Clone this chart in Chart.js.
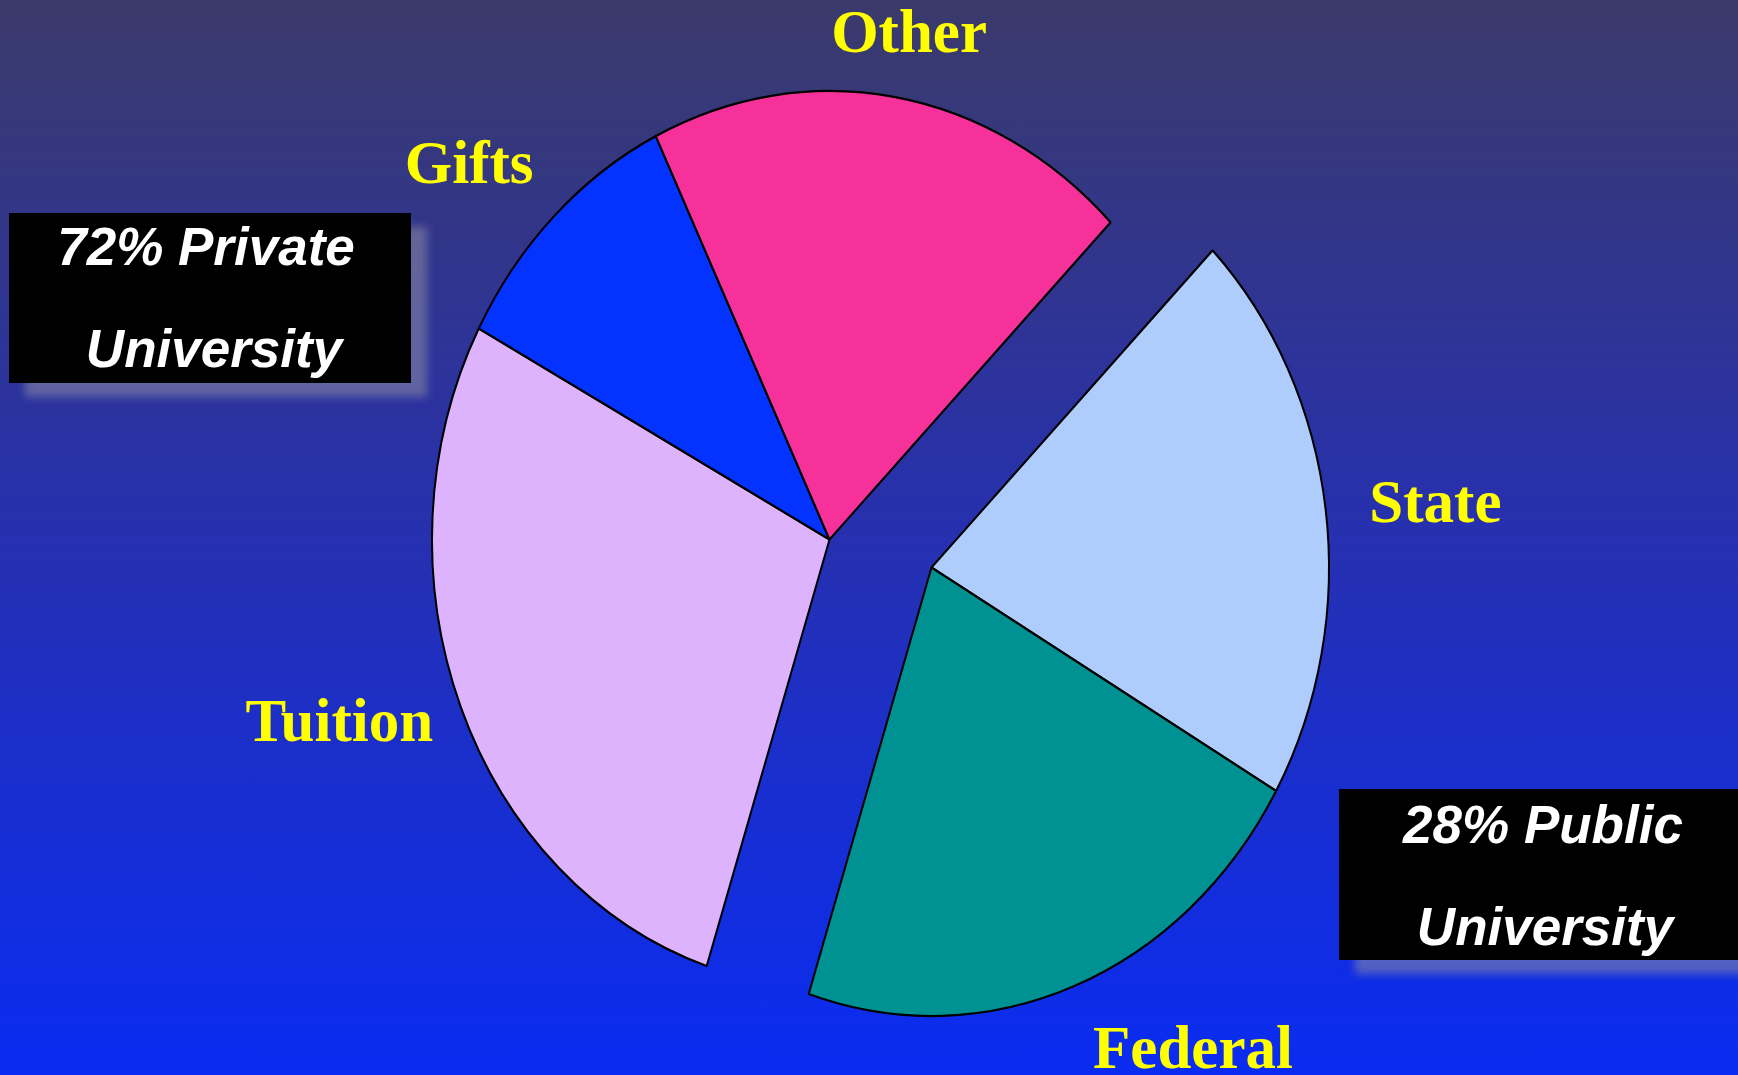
<!DOCTYPE html>
<html>
<head>
<meta charset="utf-8">
<script src="https://cdn.jsdelivr.net/npm/chart.js@4"></script>
<style>
  html, body { margin: 0; padding: 0; }
  body {
    width: 1738px; height: 1075px; overflow: hidden;
    background: linear-gradient(to bottom, #3b3a6b 0%, #2630b0 50%, #0a2cf2 100%);
  }
  canvas { display: block; }
</style>
</head>
<body>
<canvas id="chart" width="1738" height="1075"></canvas>
<script>
// slices, clockwise from the upper right
const labels = ["State", "Federal", "Tuition", "Gifts", "Other"];
const shares = [20.8, 21.7, 27.8, 10.0, 19.7];
const groups = ["Public", "Public", "Private", "Private", "Private"];
const colors = ["#afcdfc", "#009292", "#dcb3fc", "#0433ff", "#f6319a"];

const boxTexts = {
  Private: ["72% Private", "University"],
  Public: ["28% Public", "University"]
};

// --- look & layout (not data) ---
const yStretch = 448.5 / 397.5;          // pie is drawn as a tall ellipse
const groupShift = { Private: { x: -51, y: -14 }, Public: { x: 51, y: 14 } };
// label placement relative to each slice: [angle nudge (deg), radius factor]
const labelPlace = [[1, 1.276], [-10.5, 1.257], [3.8, 1.298], [-3.3, 1.235], [0.5, 1.148]];
const boxes = {
  Private: { x: 9, y: 213, w: 402, h: 170, cx: [206, 214], base: [265, 367] },
  Public: { x: 1339, y: 789, w: 402, h: 171, cx: [1543, 1545], base: [843, 945] }
};

const ellipsePlugin = {
  id: "ellipse",
  beforeDatasetDraw(chart, args) {
    const { ctx } = chart;
    args.meta.data.forEach((arc, i) => {
      const s = groupShift[groups[i]];
      ctx.save();
      ctx.translate(arc.x + s.x, arc.y + s.y);
      ctx.scale(1, yStretch);
      ctx.translate(-arc.x, -arc.y);
      arc.draw(ctx, chart.chartArea);
      ctx.restore();
    });
    return false;
  },
  afterDraw(chart) {
    const { ctx } = chart;
    const meta = chart.getDatasetMeta(0);

    // slice names
    ctx.save();
    ctx.fillStyle = "#ffff00";
    ctx.font = "bold 61px 'Liberation Serif', 'Times New Roman', serif";
    ctx.textAlign = "center";
    ctx.textBaseline = "middle";
    meta.data.forEach((arc, i) => {
      const s = groupShift[groups[i]];
      const [nudge, f] = labelPlace[i];
      const a = (arc.startAngle + arc.endAngle) / 2 + nudge * Math.PI / 180;
      const r = arc.outerRadius * f;
      const x = arc.x + s.x + Math.cos(a) * r;
      const y = arc.y + s.y + Math.sin(a) * r * yStretch + 4;
      ctx.fillText(labels[i], x, y);
    });
    ctx.restore();

    // black callout boxes
    Object.keys(boxes).forEach(k => {
      const b = boxes[k];
      ctx.save();
      ctx.shadowColor = "rgba(140,140,165,0.55)";
      ctx.shadowBlur = 8;
      ctx.shadowOffsetX = 16;
      ctx.shadowOffsetY = 14;
      ctx.fillStyle = "#000";
      ctx.fillRect(b.x, b.y, b.w, b.h);
      ctx.restore();

      ctx.save();
      ctx.fillStyle = "#fff";
      ctx.font = "italic bold 53px 'Liberation Sans', Arial, sans-serif";
      ctx.textAlign = "center";
      ctx.textBaseline = "alphabetic";
      boxTexts[k].forEach((t, j) => ctx.fillText(t, b.cx[j], b.base[j]));
      ctx.restore();
    });
  }
};

new Chart(document.getElementById("chart").getContext("2d"), {
  type: "pie",
  data: {
    labels: labels,
    datasets: [{
      data: shares,
      backgroundColor: colors,
      borderColor: "#000",
      borderWidth: 2
    }]
  },
  options: {
    responsive: false,
    devicePixelRatio: 1,
    animation: false,
    rotation: 45,
    layout: { padding: { left: 482, right: 459, top: 155, bottom: 123 } },
    plugins: {
      legend: { display: false },
      tooltip: { enabled: false }
    }
  },
  plugins: [ellipsePlugin]
});
</script>
</body>
</html>
